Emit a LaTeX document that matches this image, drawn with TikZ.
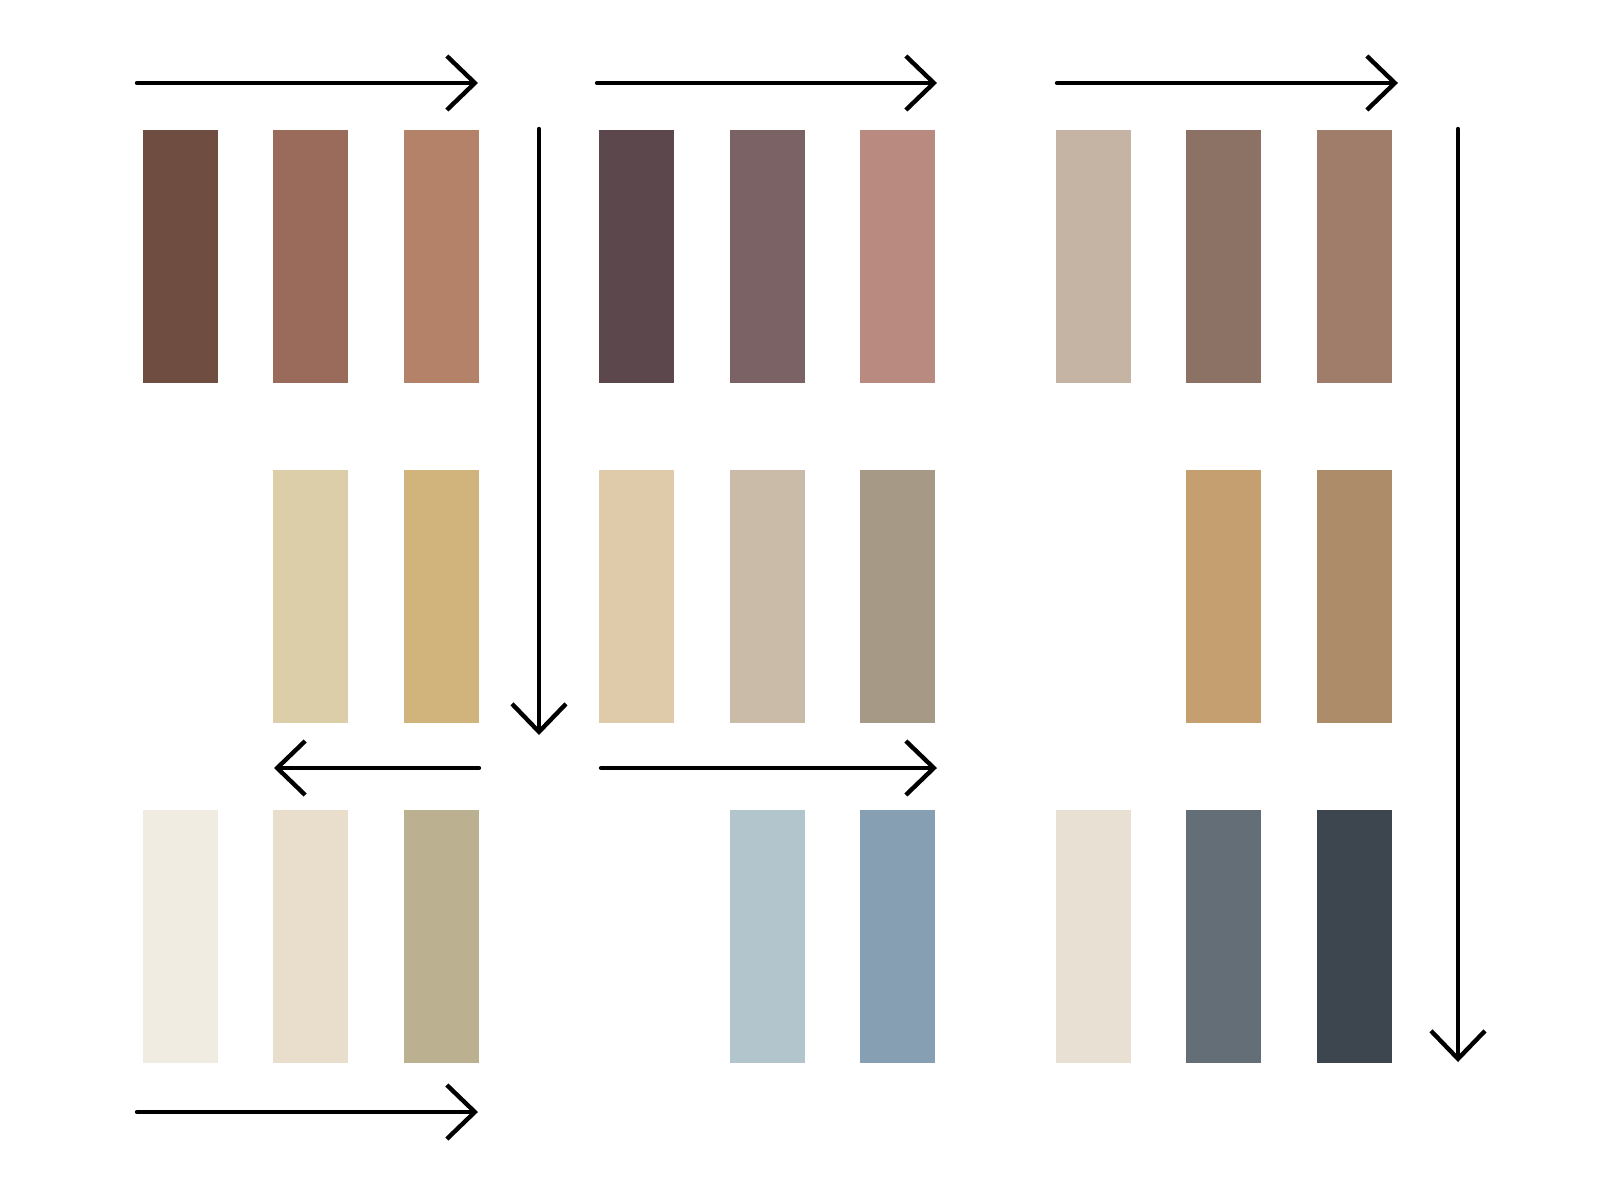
\documentclass[tikz,border=0pt]{standalone}
\usetikzlibrary{arrows.meta}
\definecolor{cA}{HTML}{704D41}
\definecolor{cB}{HTML}{9A6B5A}
\definecolor{cC}{HTML}{B38268}
\definecolor{cD}{HTML}{5C474D}
\definecolor{cE}{HTML}{7B6365}
\definecolor{cF}{HTML}{B88A80}
\definecolor{cG}{HTML}{C5B4A4}
\definecolor{cH}{HTML}{8C7264}
\definecolor{cI}{HTML}{A07D6A}
\definecolor{cJ}{HTML}{DBCEA8}
\definecolor{cK}{HTML}{D0B47B}
\definecolor{cL}{HTML}{DFCBA9}
\definecolor{cM}{HTML}{C9BBA7}
\definecolor{cN}{HTML}{A69A86}
\definecolor{cO}{HTML}{C59F70}
\definecolor{cP}{HTML}{AC8C69}
\definecolor{cQ}{HTML}{F0ECE2}
\definecolor{cR}{HTML}{E8DECB}
\definecolor{cS}{HTML}{BBB08F}
\definecolor{cT}{HTML}{B2C5CC}
\definecolor{cU}{HTML}{869FB2}
\definecolor{cV}{HTML}{E8E1D3}
\definecolor{cW}{HTML}{646E77}
\definecolor{cX}{HTML}{3D454E}
\begin{document}
\begin{tikzpicture}[x=0.01cm, y=-0.01cm,
    swatch/.style={rectangle, inner sep=0pt, minimum width=0.75cm, minimum height=2.53cm, anchor=north west},
    flow/.style={line width=1.25pt, line cap=round, -{Straight Barb[length=0.28cm, width=0.54cm]}}]
\useasboundingbox (0,0) rectangle (1600,1200);
% swatches: row/group/column/colour
\foreach \r/\g/\c/\col in {0/0/0/cA,0/0/1/cB,0/0/2/cC,0/1/0/cD,0/1/1/cE,0/1/2/cF,0/2/0/cG,0/2/1/cH,0/2/2/cI,
    1/0/1/cJ,1/0/2/cK,1/1/0/cL,1/1/1/cM,1/1/2/cN,1/2/1/cO,1/2/2/cP,
    2/0/0/cQ,2/0/1/cR,2/0/2/cS,2/1/1/cT,2/1/2/cU,2/2/0/cV,2/2/1/cW,2/2/2/cX}
{
    \node[swatch, fill=\col] (s\r\g\c) at ({142+456.5*\g+130.5*\c},{129+340*\r}) {};
}
\coordinate (top1a) at (137,83);  \coordinate (top1b) at (478,83);
\coordinate (top2a) at (597,83);  \coordinate (top2b) at (937,83);
\coordinate (top3a) at (1057,83); \coordinate (top3b) at (1398,83);
\coordinate (down1a) at (539,129); \coordinate (down1b) at (539,735);
\coordinate (down2a) at (1458,129); \coordinate (down2b) at (1458,1062);
\coordinate (backa) at (479,768); \coordinate (backb) at (274,768);
\coordinate (mida) at (601,768); \coordinate (midb) at (937,768);
\coordinate (bota) at (137,1112); \coordinate (botb) at (478,1112);
\foreach \a in {top1,top2,top3,down1,down2,back,mid,bot}
{
    \draw[flow] (\a a)--(\a b);
}
\end{tikzpicture}
\end{document}
